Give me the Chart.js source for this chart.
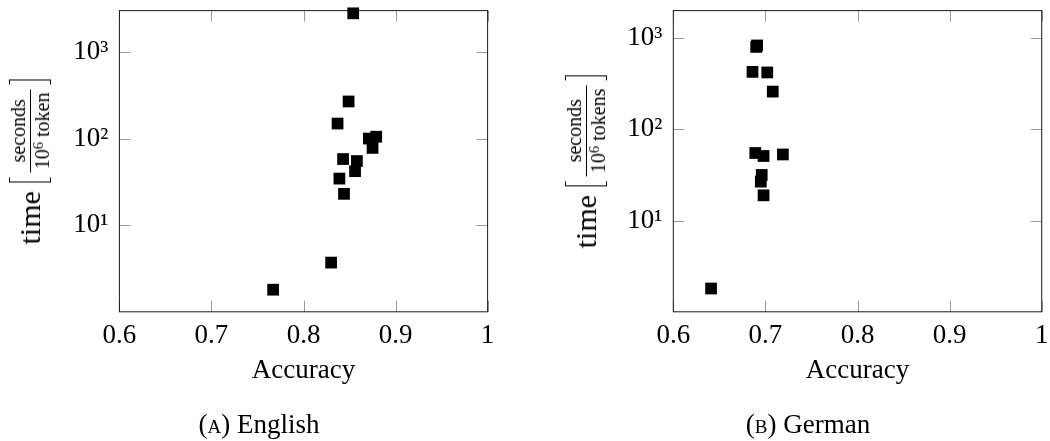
<!DOCTYPE html>
<html>
<head>
<meta charset="utf-8">
<script src="https://cdn.jsdelivr.net/npm/chart.js@4/dist/chart.umd.min.js"></script>
<style>
  body { margin: 0; background: #fff; }
  #wrap { position: relative; width: 1050px; height: 441px; overflow: hidden; font-family: 'Liberation Serif', serif; color: #000; }
  canvas { position: absolute; top: 0; }
  #en { left: 0; }
  #de { left: 525px; }
  .ytitle { position: absolute; transform: translate(-50%, -50%) rotate(-90deg); display: flex; align-items: center; white-space: nowrap; }
  .ytitle .word { font-size: 30px; line-height: 1; margin-right: 9px; }
  .frac { display: inline-flex; flex-direction: column; align-items: center; font-size: 20px; line-height: 1; }
  .frac .num { padding: 0 2px 2px; }
  .frac .den { border-top: 1px solid #000; padding: 1px 3px 0; }
  .frac sup { font-size: 0.72em; line-height: 0; vertical-align: 0.45em; }
  .bracket { width: 5px; height: 42px; border: 1px solid #000; box-sizing: border-box; }
  .bracket.open { border-right: none; margin-right: 5px; }
  .bracket.close { border-left: none; margin-left: 5px; }
  .caption { position: absolute; top: 411px; font-size: 27px; line-height: 1; white-space: nowrap; transform: translateX(-50%); }
  .sc { font-variant: small-caps; }
</style>
</head>
<body>
<div id="wrap">
  <canvas id="en" width="525" height="441"></canvas>
  <canvas id="de" width="525" height="441"></canvas>

  <div class="ytitle" style="left:30px; top:162px;">
    <span class="word">time</span>
    <span class="bracket open"></span>
    <span class="frac"><span class="num">seconds</span><span class="den">10<sup>6</sup> token</span></span>
    <span class="bracket close"></span>
  </div>
  <div class="ytitle" style="left:586px; top:162px;">
    <span class="word">time</span>
    <span class="bracket open"></span>
    <span class="frac"><span class="num">seconds</span><span class="den">10<sup>6</sup> tokens</span></span>
    <span class="bracket close"></span>
  </div>

  <div class="caption" style="left:259px;">(<span class="sc">a</span>) English</div>
  <div class="caption" style="left:808px;">(<span class="sc">b</span>) German</div>
</div>

<script>
// accuracy vs. processing time per model
const enAccuracy = [0.854, 0.849, 0.837, 0.871, 0.879, 0.875, 0.843, 0.858, 0.856, 0.839, 0.844, 0.830, 0.767];
const enTime = [2790, 268, 149, 100, 105, 78, 58, 55, 42, 34.5, 23, 3.7, 1.8];

const deAccuracy = [0.690, 0.691, 0.686, 0.702, 0.708, 0.689, 0.698, 0.719, 0.696, 0.695, 0.698, 0.641];
const deTime = [800, 830, 426, 420, 259, 55, 51, 53, 31.6, 26.7, 18.9, 1.8];

const xTicks = [0.6, 0.7, 0.8, 0.9, 1];
const xTickLabels = ['0.6', '0.7', '0.8', '0.9', '1'];
const yTicks = [10, 100, 1000];
const yTickLabels = ['10¹', '10²', '10³'];

const FONT = "'Liberation Serif', serif";

// pgfplots style box: inward tick marks on all four sides
const axisFrame = {
    id: 'axisFrame',
    beforeDatasetsDraw(chart) {
        const ctx = chart.ctx;
        const a = chart.chartArea;
        const x = chart.scales.x;
        const y = chart.scales.y;
        const len = 11;
        ctx.save();
        ctx.strokeStyle = '#9a9a9a';
        ctx.lineWidth = 1;
        ctx.beginPath();
        x.ticks.forEach(t => {
            const px = Math.round(x.getPixelForValue(t.value)) + 0.5;
            ctx.moveTo(px, a.bottom); ctx.lineTo(px, a.bottom - len);
            ctx.moveTo(px, a.top); ctx.lineTo(px, a.top + len);
        });
        y.ticks.forEach(t => {
            const py = Math.round(y.getPixelForValue(t.value)) + 0.5;
            ctx.moveTo(a.left, py); ctx.lineTo(a.left + len, py);
            ctx.moveTo(a.right, py); ctx.lineTo(a.right - len, py);
        });
        ctx.stroke();
        ctx.strokeStyle = '#1a1a1a';
        ctx.strokeRect(a.left, a.top, a.right - a.left, a.bottom - a.top);
        ctx.restore();
    }
};

function makeChart(id, acc, time, yMax, yWidth, padRight) {
    const points = acc.map((v, i) => ({ x: v, y: time[i] }));
    return new Chart(document.getElementById(id), {
        type: 'scatter',
        data: {
            datasets: [{
                data: points,
                pointStyle: 'rect',
                pointRadius: 8.3,
                backgroundColor: '#000',
                borderWidth: 0,
                clip: false,
            }]
        },
        options: {
            responsive: false,
            animation: false,
            events: [],
            layout: { padding: { left: 0, top: 10.6, right: padRight, bottom: 53.4 } },
            plugins: { legend: { display: false }, tooltip: { enabled: false } },
            scales: {
                x: {
                    type: 'linear',
                    min: 0.6,
                    max: 1,
                    afterBuildTicks: s => { s.ticks = xTicks.map(v => ({ value: v })); },
                    afterFit: s => {
                        s.height = 75.8;
                        s.paddingLeft = 0;
                        s.paddingRight = 0;
                    },
                    grid: { display: false, drawTicks: false },
                    border: { display: false },
                    ticks: {
                        padding: 8,
                        color: '#000',
                        font: { family: FONT, size: 27 },
                        maxRotation: 0,
                        callback: (v, i) => xTickLabels[i],
                    },
                    title: {
                        display: true,
                        text: 'Accuracy',
                        color: '#000',
                        padding: 0,
                        font: { family: FONT, size: 27 },
                    }
                },
                y: {
                    type: 'logarithmic',
                    min: 1,
                    max: yMax,
                    afterBuildTicks: s => { s.ticks = yTicks.map(v => ({ value: v })); },
                    afterFit: s => {
                        s.width = yWidth;
                        s.paddingTop = 0;
                        s.paddingBottom = 0;
                    },
                    grid: { display: false, drawTicks: false },
                    border: { display: false },
                    ticks: {
                        padding: 11,
                        color: '#000',
                        font: { family: FONT, size: 27 },
                        callback: (v, i) => yTickLabels[i],
                    }
                }
            }
        },
        plugins: [axisFrame]
    });
}

makeChart('en', enAccuracy, enTime, 3000, 119.4, 37.4);
makeChart('de', deAccuracy, deTime, 2000, 148.3, 8.2);
</script>
</body>
</html>
